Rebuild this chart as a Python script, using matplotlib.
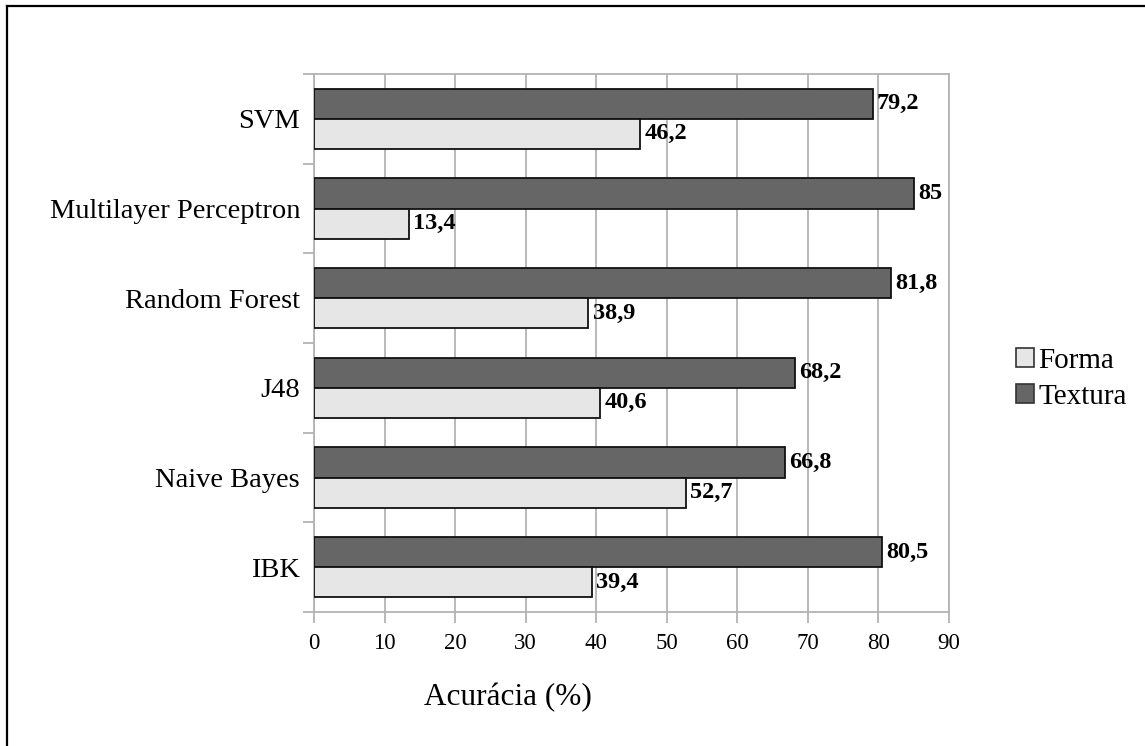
import numpy as np
import matplotlib
matplotlib.use("Agg")
import matplotlib.pyplot as plt
from matplotlib.patches import Patch
from matplotlib.lines import Line2D

plt.rcParams['font.family'] = ['Liberation Serif', 'DejaVu Serif']

# classificadores (de baixo para cima no eixo)
classificadores = ['IBK', 'Naive Bayes', 'J48', 'Random Forest',
                   'Multilayer Perceptron', 'SVM']
forma = [39.4, 52.7, 40.6, 38.9, 13.4, 46.2]
textura = [80.5, 66.8, 68.2, 81.8, 85, 79.2]
xticks = [0, 10, 20, 30, 40, 50, 60, 70, 80, 90]

cor_forma = '#e6e6e6'
cor_textura = '#666666'
cinza = '#b3b3b3'

fig = plt.figure(figsize=(11.45, 7.46), dpi=100)
ax = fig.add_axes([314/1145, 1 - 612/746, 635/1145, 538/746])

y = np.arange(len(classificadores))
h = 0.335
ax.barh(y + h/2, textura, height=h, color=cor_textura, edgecolor='#111111',
        linewidth=1.3, zorder=3)
ax.barh(y - h/2, forma, height=h, color=cor_forma, edgecolor='#111111',
        linewidth=1.3, zorder=3)

def rotulo(v):
    s = ('%.1f' % v).replace('.', ',')
    return s[:-2] if s.endswith(',0') else s

for yi, v in zip(y, textura):
    ax.text(v + 0.6, yi + h/2, rotulo(v), va='center', ha='left',
            fontsize=17.5, fontweight='bold')
for yi, v in zip(y, forma):
    ax.text(v + 0.6, yi - h/2, rotulo(v), va='center', ha='left',
            fontsize=17.5, fontweight='bold')

ax.set_xlim(0, 90)
ax.set_ylim(-0.5, len(classificadores) - 0.5)
ax.set_xticks(xticks)
ax.set_xticklabels([str(t) for t in xticks], fontsize=16.5)
ax.xaxis.grid(True, color=cinza, linewidth=1.3, zorder=0)
ax.tick_params(axis='x', length=8, width=1.3, color=cinza, pad=7)

# marcas entre categorias, nomes no centro
ax.set_yticks(np.arange(-0.5, len(classificadores), 1.0))
ax.set_yticklabels([])
ax.tick_params(axis='y', which='major', length=8, width=1.3, color=cinza)
ax.set_yticks(y, minor=True)
ax.set_yticklabels(classificadores, minor=True, fontsize=20.5)
ax.tick_params(axis='y', which='minor', length=0, pad=10)

for s in ax.spines.values():
    s.set_color(cinza)
    s.set_linewidth(1.3)

fig.text(508/1145, 1 - 698/746, 'Acurácia (%)', ha='center', va='center',
         fontsize=22.5)

handles = [Patch(facecolor=cor_forma, edgecolor='#333333', linewidth=1.2),
           Patch(facecolor=cor_textura, edgecolor='#333333', linewidth=1.2)]
fig.legend(handles, ['Forma', 'Textura'], loc='center left',
           bbox_to_anchor=(1001/1145, 1 - 379/746), frameon=False,
           fontsize=21, handlelength=0.62, handleheight=0.62,
           handletextpad=0.15, labelspacing=0.35, borderpad=0)

# moldura (esquerda e topo)
fig.add_artist(Line2D([7/1145, 7/1145], [0, 1 - 6/746], color='black',
                      linewidth=1.6, transform=fig.transFigure))
fig.add_artist(Line2D([7/1145, 1], [1 - 6/746, 1 - 6/746], color='black',
                      linewidth=1.6, transform=fig.transFigure))

fig.savefig('out.png', dpi=100)
